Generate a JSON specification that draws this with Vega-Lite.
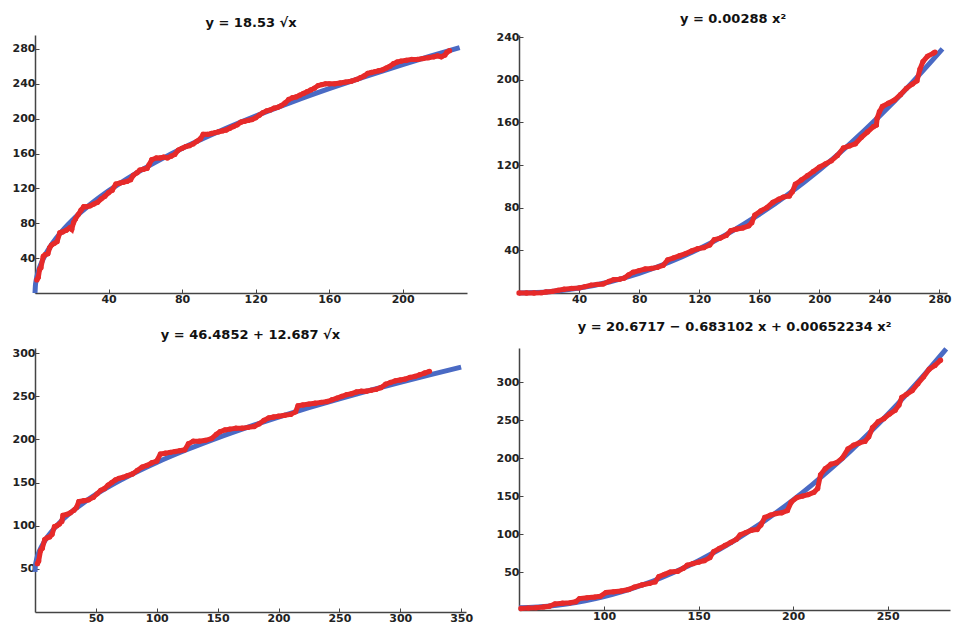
{
  "$schema": "https://vega.github.io/schema/vega-lite/v6.json",
  "background": "white",
  "padding": {"left": 12, "top": 13, "right": 0, "bottom": 0},
  "bounds": "flush",
  "columns": 2,
  "spacing": {"row": 55, "column": 52},
  "config": {
    "view": {"stroke": null},
    "axis": {"grid": false, "domainColor": "#444444", "domainWidth": 1.5, "tickColor": "#444444", "tickSize": -4, "tickWidth": 1, "labelPadding": 4, "labelFont": "DejaVu Sans", "labelFontWeight": "bold", "labelFontSize": 11, "labelColor": "#222222"},
    "title": {"font": "DejaVu Sans", "fontSize": 13, "fontWeight": "bold", "color": "#111111", "offset": 5, "anchor": "middle"}
  },
  "concat": [
    {
      "width": 432, "height": 258,
      "title": "y = 18.53 √x",
      "encoding": {
        "x": {"field": "x", "type": "quantitative", "title": null, "scale": {"domain": [0, 235], "nice": false, "zero": false}, "axis": {"values": [40, 80, 120, 160, 200]}},
        "y": {"field": "y", "type": "quantitative", "title": null, "scale": {"domain": [0, 296], "nice": false, "zero": false}, "axis": {"values": [40, 80, 120, 160, 200, 240, 280]}}
      },
      "layer": [
        {"data": {"name": "c1"}, "mark": {"type": "line", "color": "#4a6ac4", "strokeWidth": 5, "interpolate": "monotone"}},
        {"data": {"name": "d1"}, "mark": {"type": "line", "color": "#e62a2a", "strokeWidth": 5}},
        {"data": {"name": "d1"}, "mark": {"type": "circle", "color": "#e62a2a", "size": 28, "opacity": 1}}
      ]
    },
    {
      "width": 428, "height": 258,
      "title": "y = 0.00288 x²",
      "encoding": {
        "x": {"field": "x", "type": "quantitative", "title": null, "scale": {"domain": [0, 285], "nice": false, "zero": false}, "axis": {"values": [40, 80, 120, 160, 200, 240, 280]}},
        "y": {"field": "y", "type": "quantitative", "title": null, "scale": {"domain": [0, 242], "nice": false, "zero": false}, "axis": {"values": [40, 80, 120, 160, 200, 240]}}
      },
      "layer": [
        {"data": {"name": "c2"}, "mark": {"type": "line", "color": "#4a6ac4", "strokeWidth": 5, "interpolate": "monotone"}},
        {"data": {"name": "d2"}, "mark": {"type": "line", "color": "#e62a2a", "strokeWidth": 5}},
        {"data": {"name": "d2"}, "mark": {"type": "circle", "color": "#e62a2a", "size": 28, "opacity": 1}}
      ]
    },
    {
      "width": 431, "height": 264,
      "title": "y = 46.4852 + 12.687 √x",
      "encoding": {
        "x": {"field": "x", "type": "quantitative", "title": null, "scale": {"domain": [0, 354], "nice": false, "zero": false}, "axis": {"values": [50, 100, 150, 200, 250, 300, 350]}},
        "y": {"field": "y", "type": "quantitative", "title": null, "scale": {"domain": [0, 306], "nice": false, "zero": false}, "axis": {"values": [50, 100, 150, 200, 250, 300]}}
      },
      "layer": [
        {"data": {"name": "c3"}, "mark": {"type": "line", "color": "#4a6ac4", "strokeWidth": 5, "interpolate": "monotone"}},
        {"data": {"name": "d3"}, "mark": {"type": "line", "color": "#e62a2a", "strokeWidth": 5}},
        {"data": {"name": "d3"}, "mark": {"type": "circle", "color": "#e62a2a", "size": 28, "opacity": 1}}
      ]
    },
    {
      "width": 431, "height": 262,
      "title": "y = 20.6717 − 0.683102 x + 0.00652234 x²",
      "encoding": {
        "x": {"field": "x", "type": "quantitative", "title": null, "scale": {"domain": [55, 283], "nice": false, "zero": false}, "axis": {"values": [100, 150, 200, 250]}},
        "y": {"field": "y", "type": "quantitative", "title": null, "scale": {"domain": [0, 345], "nice": false, "zero": false}, "axis": {"values": [50, 100, 150, 200, 250, 300]}}
      },
      "layer": [
        {"data": {"name": "c4"}, "mark": {"type": "line", "color": "#4a6ac4", "strokeWidth": 5, "interpolate": "monotone"}},
        {"data": {"name": "d4"}, "mark": {"type": "line", "color": "#e62a2a", "strokeWidth": 5}},
        {"data": {"name": "d4"}, "mark": {"type": "circle", "color": "#e62a2a", "size": 28, "opacity": 1}}
      ]
    }
  ],
  "datasets": {
    "c1": [
      {"x": 0, "y": 0}, {"x": 0.25, "y": 9.27}, {"x": 0.5, "y": 13.1}, {"x": 1, "y": 18.53}, {"x": 2, "y": 26.21}, {"x": 3, "y": 32.09}, {"x": 4, "y": 37.06}, {"x": 6, "y": 45.39}, {"x": 8, "y": 52.41}, {"x": 10, "y": 58.6}, {"x": 13, "y": 66.81}, {"x": 16, "y": 74.12}, {"x": 20, "y": 82.87}, {"x": 25, "y": 92.65}, {"x": 30, "y": 101.49}, {"x": 40, "y": 117.19}, {"x": 50, "y": 131.03}, {"x": 60, "y": 143.53}, {"x": 70, "y": 155.03}, {"x": 85, "y": 170.84}, {"x": 100, "y": 185.3}, {"x": 120, "y": 202.99}, {"x": 140, "y": 219.25}, {"x": 160, "y": 234.38}, {"x": 180, "y": 248.6}, {"x": 200, "y": 262.05}, {"x": 215, "y": 271.7}, {"x": 231, "y": 281.63}
    ],
    "c2": [
      {"x": 0, "y": 0}, {"x": 20, "y": 1.152}, {"x": 40, "y": 4.608}, {"x": 60, "y": 10.368}, {"x": 80, "y": 18.432}, {"x": 100, "y": 28.8}, {"x": 120, "y": 41.472}, {"x": 140, "y": 56.448}, {"x": 160, "y": 73.728}, {"x": 180, "y": 93.312}, {"x": 200, "y": 115.2}, {"x": 220, "y": 139.392}, {"x": 240, "y": 165.888}, {"x": 260, "y": 194.688}, {"x": 282, "y": 229.03}
    ],
    "c3": [
      {"x": 0, "y": 46.49}, {"x": 0.25, "y": 52.83}, {"x": 0.5, "y": 55.46}, {"x": 1, "y": 59.17}, {"x": 2, "y": 64.43}, {"x": 3, "y": 68.46}, {"x": 4, "y": 71.86}, {"x": 7, "y": 80.05}, {"x": 10, "y": 86.6}, {"x": 15, "y": 95.62}, {"x": 20, "y": 103.22}, {"x": 30, "y": 115.97}, {"x": 40, "y": 126.73}, {"x": 55, "y": 140.58}, {"x": 70, "y": 152.6}, {"x": 85, "y": 163.46}, {"x": 100, "y": 173.36}, {"x": 125, "y": 188.33}, {"x": 150, "y": 201.87}, {"x": 175, "y": 214.3}, {"x": 200, "y": 225.9}, {"x": 225, "y": 236.8}, {"x": 250, "y": 247.1}, {"x": 275, "y": 256.9}, {"x": 300, "y": 266.2}, {"x": 325, "y": 275.2}, {"x": 350, "y": 283.8}
    ],
    "c4": [
      {"x": 55, "y": 2.83}, {"x": 60, "y": 3.16}, {"x": 70, "y": 4.81}, {"x": 80, "y": 7.76}, {"x": 90, "y": 12.02}, {"x": 100, "y": 17.58}, {"x": 110, "y": 24.45}, {"x": 120, "y": 32.62}, {"x": 130, "y": 42.1}, {"x": 140, "y": 52.88}, {"x": 150, "y": 64.95}, {"x": 160, "y": 78.34}, {"x": 170, "y": 93.04}, {"x": 180, "y": 109.03}, {"x": 190, "y": 126.34}, {"x": 200, "y": 144.94}, {"x": 210, "y": 164.85}, {"x": 220, "y": 186.07}, {"x": 230, "y": 208.59}, {"x": 240, "y": 232.42}, {"x": 250, "y": 257.54}, {"x": 260, "y": 283.97}, {"x": 270, "y": 311.71}, {"x": 281, "y": 343.73}
    ],
    "d1": [
      {"x": 1, "y": 15}, {"x": 1.8, "y": 18}, {"x": 2.5, "y": 27}, {"x": 3.2, "y": 29}, {"x": 4.5, "y": 42}, {"x": 5.5, "y": 44}, {"x": 7, "y": 45}, {"x": 8, "y": 52}, {"x": 9, "y": 55}, {"x": 10.5, "y": 57}, {"x": 12, "y": 59}, {"x": 13.5, "y": 69}, {"x": 15, "y": 70}, {"x": 17, "y": 72}, {"x": 19, "y": 75}, {"x": 20, "y": 73}, {"x": 21, "y": 81}, {"x": 22, "y": 85}, {"x": 23.5, "y": 90}, {"x": 25, "y": 95}, {"x": 26.5, "y": 99}, {"x": 28, "y": 99}, {"x": 30, "y": 100}, {"x": 32, "y": 102}, {"x": 34, "y": 104}, {"x": 36, "y": 108}, {"x": 38, "y": 111}, {"x": 40, "y": 115}, {"x": 42, "y": 118}, {"x": 44, "y": 125}, {"x": 46, "y": 126}, {"x": 48, "y": 127}, {"x": 50, "y": 128}, {"x": 52, "y": 130}, {"x": 53.5, "y": 135}, {"x": 55.5, "y": 138}, {"x": 57, "y": 141}, {"x": 59, "y": 142}, {"x": 61, "y": 143}, {"x": 62, "y": 147}, {"x": 63.5, "y": 153}, {"x": 66, "y": 155}, {"x": 68, "y": 155}, {"x": 70, "y": 156}, {"x": 72, "y": 155}, {"x": 74, "y": 157}, {"x": 76, "y": 159}, {"x": 78, "y": 164}, {"x": 80, "y": 166}, {"x": 82, "y": 168}, {"x": 84, "y": 169}, {"x": 86, "y": 171}, {"x": 88, "y": 174}, {"x": 90, "y": 177}, {"x": 91.5, "y": 182}, {"x": 94, "y": 182}, {"x": 96, "y": 183}, {"x": 98, "y": 184}, {"x": 100, "y": 185}, {"x": 102, "y": 186}, {"x": 104, "y": 187}, {"x": 106, "y": 189}, {"x": 108, "y": 191}, {"x": 110, "y": 193}, {"x": 112, "y": 196}, {"x": 114, "y": 197}, {"x": 116, "y": 198}, {"x": 118, "y": 199}, {"x": 120, "y": 201}, {"x": 122, "y": 204}, {"x": 124, "y": 207}, {"x": 126, "y": 209}, {"x": 128, "y": 210}, {"x": 130, "y": 212}, {"x": 132, "y": 213}, {"x": 134, "y": 215}, {"x": 136, "y": 218}, {"x": 138, "y": 222}, {"x": 140, "y": 224}, {"x": 142, "y": 225}, {"x": 144, "y": 227}, {"x": 146, "y": 229}, {"x": 148, "y": 231}, {"x": 150, "y": 233}, {"x": 152, "y": 235}, {"x": 154, "y": 238}, {"x": 156, "y": 239}, {"x": 158, "y": 240}, {"x": 160, "y": 240}, {"x": 163, "y": 240}, {"x": 166, "y": 241}, {"x": 169, "y": 242}, {"x": 172, "y": 243}, {"x": 175, "y": 245}, {"x": 177, "y": 247}, {"x": 179, "y": 249}, {"x": 181, "y": 252}, {"x": 183, "y": 253}, {"x": 185, "y": 254}, {"x": 187, "y": 255}, {"x": 189, "y": 256}, {"x": 191, "y": 258}, {"x": 193, "y": 260}, {"x": 195, "y": 263}, {"x": 197, "y": 265}, {"x": 199, "y": 266}, {"x": 202, "y": 267}, {"x": 205, "y": 268}, {"x": 208, "y": 268}, {"x": 211, "y": 269}, {"x": 214, "y": 270}, {"x": 217, "y": 271}, {"x": 219, "y": 272}, {"x": 221, "y": 271}, {"x": 223, "y": 273}, {"x": 224, "y": 276}, {"x": 225.5, "y": 278}
    ],
    "d2": [
      {"x": 0, "y": 0}, {"x": 5, "y": 0}, {"x": 10, "y": 0}, {"x": 15, "y": 0.3}, {"x": 18, "y": 1}, {"x": 22, "y": 1.5}, {"x": 26, "y": 2.5}, {"x": 30, "y": 3.5}, {"x": 35, "y": 4.3}, {"x": 40, "y": 4.8}, {"x": 44, "y": 6}, {"x": 48, "y": 7.4}, {"x": 52, "y": 8}, {"x": 56, "y": 8.5}, {"x": 60, "y": 11}, {"x": 63, "y": 12.5}, {"x": 67, "y": 13}, {"x": 70, "y": 14}, {"x": 73, "y": 17}, {"x": 76, "y": 19.5}, {"x": 80, "y": 21}, {"x": 84, "y": 22.5}, {"x": 88, "y": 23}, {"x": 92, "y": 24}, {"x": 96, "y": 26}, {"x": 99, "y": 31}, {"x": 103, "y": 33}, {"x": 107, "y": 35}, {"x": 111, "y": 37}, {"x": 115, "y": 39.5}, {"x": 119, "y": 41.5}, {"x": 123, "y": 42.5}, {"x": 127, "y": 45}, {"x": 130, "y": 50}, {"x": 134, "y": 51.5}, {"x": 138, "y": 54}, {"x": 141, "y": 58.5}, {"x": 145, "y": 60}, {"x": 149, "y": 61}, {"x": 153, "y": 63}, {"x": 155, "y": 66}, {"x": 157, "y": 73}, {"x": 161, "y": 77}, {"x": 165, "y": 80}, {"x": 169, "y": 85}, {"x": 173, "y": 88}, {"x": 176, "y": 90}, {"x": 180, "y": 91}, {"x": 182, "y": 95}, {"x": 184, "y": 102}, {"x": 188, "y": 106}, {"x": 192, "y": 110}, {"x": 196, "y": 114}, {"x": 200, "y": 118}, {"x": 204, "y": 121}, {"x": 208, "y": 124}, {"x": 212, "y": 129}, {"x": 216, "y": 136}, {"x": 220, "y": 138}, {"x": 224, "y": 140}, {"x": 228, "y": 146}, {"x": 232, "y": 151}, {"x": 236, "y": 156}, {"x": 238, "y": 157.5}, {"x": 238.5, "y": 164}, {"x": 240, "y": 170}, {"x": 242, "y": 175}, {"x": 246, "y": 178}, {"x": 250, "y": 181}, {"x": 254, "y": 186}, {"x": 258, "y": 192}, {"x": 262, "y": 196}, {"x": 265, "y": 199}, {"x": 267, "y": 210}, {"x": 269, "y": 217}, {"x": 272, "y": 222}, {"x": 276, "y": 225}, {"x": 277, "y": 226}
    ],
    "d3": [
      {"x": 2, "y": 56}, {"x": 3, "y": 59}, {"x": 4.5, "y": 71}, {"x": 6, "y": 74}, {"x": 8, "y": 84}, {"x": 10, "y": 86}, {"x": 12, "y": 87}, {"x": 14, "y": 90}, {"x": 16, "y": 99}, {"x": 18, "y": 100}, {"x": 20, "y": 102}, {"x": 22, "y": 105}, {"x": 23, "y": 112}, {"x": 26, "y": 113}, {"x": 29, "y": 115}, {"x": 32, "y": 118}, {"x": 34, "y": 121}, {"x": 36, "y": 128}, {"x": 40, "y": 129}, {"x": 44, "y": 130}, {"x": 48, "y": 133}, {"x": 51, "y": 137}, {"x": 54, "y": 141}, {"x": 57, "y": 143}, {"x": 60, "y": 147}, {"x": 63, "y": 150}, {"x": 66, "y": 153}, {"x": 69, "y": 155}, {"x": 72, "y": 156}, {"x": 76, "y": 158}, {"x": 80, "y": 160}, {"x": 84, "y": 164}, {"x": 88, "y": 168}, {"x": 92, "y": 170}, {"x": 96, "y": 173}, {"x": 100, "y": 175}, {"x": 103, "y": 183}, {"x": 107, "y": 184}, {"x": 111, "y": 185}, {"x": 115, "y": 186}, {"x": 119, "y": 187}, {"x": 123, "y": 188}, {"x": 126, "y": 195}, {"x": 130, "y": 198}, {"x": 135, "y": 198}, {"x": 140, "y": 199}, {"x": 145, "y": 201}, {"x": 149, "y": 206}, {"x": 152, "y": 209}, {"x": 156, "y": 211}, {"x": 160, "y": 212}, {"x": 165, "y": 213}, {"x": 170, "y": 213}, {"x": 175, "y": 214}, {"x": 180, "y": 215}, {"x": 184, "y": 218}, {"x": 188, "y": 222}, {"x": 192, "y": 225}, {"x": 196, "y": 226}, {"x": 200, "y": 227}, {"x": 205, "y": 228}, {"x": 210, "y": 229}, {"x": 214, "y": 232}, {"x": 216, "y": 239}, {"x": 220, "y": 240}, {"x": 225, "y": 241}, {"x": 230, "y": 242}, {"x": 235, "y": 243}, {"x": 240, "y": 244}, {"x": 244, "y": 246}, {"x": 248, "y": 248}, {"x": 252, "y": 250}, {"x": 256, "y": 252}, {"x": 260, "y": 253}, {"x": 264, "y": 255}, {"x": 268, "y": 256}, {"x": 272, "y": 256}, {"x": 276, "y": 257}, {"x": 280, "y": 258}, {"x": 284, "y": 260}, {"x": 288, "y": 264}, {"x": 292, "y": 266}, {"x": 296, "y": 268}, {"x": 300, "y": 269}, {"x": 304, "y": 270}, {"x": 308, "y": 272}, {"x": 312, "y": 273}, {"x": 316, "y": 275}, {"x": 320, "y": 277}, {"x": 324, "y": 279}
    ],
    "d4": [
      {"x": 56, "y": 2}, {"x": 60, "y": 2.5}, {"x": 64, "y": 3}, {"x": 68, "y": 4}, {"x": 71, "y": 5}, {"x": 74, "y": 8}, {"x": 78, "y": 9}, {"x": 82, "y": 9.5}, {"x": 85, "y": 11}, {"x": 87, "y": 15}, {"x": 91, "y": 16}, {"x": 95, "y": 17}, {"x": 98, "y": 18}, {"x": 101, "y": 23}, {"x": 105, "y": 24}, {"x": 109, "y": 25}, {"x": 113, "y": 27}, {"x": 116, "y": 30}, {"x": 120, "y": 33}, {"x": 124, "y": 35}, {"x": 127, "y": 37}, {"x": 129, "y": 44}, {"x": 132, "y": 47}, {"x": 135, "y": 50}, {"x": 139, "y": 51}, {"x": 142, "y": 55}, {"x": 144, "y": 59}, {"x": 147, "y": 61}, {"x": 150, "y": 63}, {"x": 153, "y": 65}, {"x": 156, "y": 69}, {"x": 158, "y": 77}, {"x": 161, "y": 81}, {"x": 164, "y": 85}, {"x": 167, "y": 89}, {"x": 170, "y": 93}, {"x": 172, "y": 99}, {"x": 175, "y": 102}, {"x": 178, "y": 105}, {"x": 181, "y": 106}, {"x": 183, "y": 112}, {"x": 185, "y": 122}, {"x": 188, "y": 125}, {"x": 191, "y": 127}, {"x": 194, "y": 128}, {"x": 197, "y": 131}, {"x": 199, "y": 142}, {"x": 202, "y": 148}, {"x": 205, "y": 150}, {"x": 208, "y": 152}, {"x": 211, "y": 155}, {"x": 213, "y": 160}, {"x": 214.5, "y": 178}, {"x": 217, "y": 186}, {"x": 220, "y": 192}, {"x": 223, "y": 194}, {"x": 226, "y": 200}, {"x": 229, "y": 212}, {"x": 232, "y": 217}, {"x": 235, "y": 220}, {"x": 238, "y": 222}, {"x": 240, "y": 228}, {"x": 242, "y": 240}, {"x": 245, "y": 248}, {"x": 248, "y": 252}, {"x": 251, "y": 258}, {"x": 254, "y": 263}, {"x": 256, "y": 270}, {"x": 257.5, "y": 280}, {"x": 260, "y": 284}, {"x": 263, "y": 289}, {"x": 266, "y": 298}, {"x": 269, "y": 307}, {"x": 272, "y": 317}, {"x": 275, "y": 322}, {"x": 278, "y": 329}
    ]
  }
}
